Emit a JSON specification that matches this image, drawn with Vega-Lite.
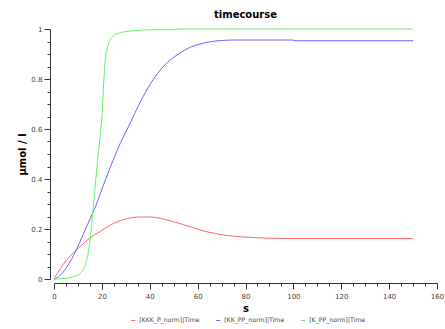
{
  "$schema": "https://vega.github.io/schema/vega-lite/v6.json",
  "autosize": {"type": "none"},
  "width": 383,
  "height": 250,
  "padding": {"left": 54, "top": 29, "right": 8, "bottom": 50},
  "background": "white",
  "title": {
    "text": "timecourse",
    "fontSize": 10,
    "fontWeight": "bold",
    "font": "DejaVu Sans",
    "color": "#000000",
    "offset": 5
  },
  "config": {
    "view": {"stroke": null},
    "font": "DejaVu Sans",
    "axis": {
      "grid": false,
      "domainColor": "#333333",
      "tickColor": "#333333",
      "labelFontSize": 7,
      "labelColor": "#444444",
      "titleFontSize": 10,
      "titleFontWeight": "bold",
      "titleColor": "#000000",
      "offset": 4
    }
  },
  "data": {
    "values": [
      {"t": 0, "s": "[KKK_P_norm]|Time", "v": 0},
      {"t": 2.7, "s": "[KKK_P_norm]|Time", "v": 0.043},
      {"t": 5.5, "s": "[KKK_P_norm]|Time", "v": 0.079},
      {"t": 9, "s": "[KKK_P_norm]|Time", "v": 0.113},
      {"t": 12.4, "s": "[KKK_P_norm]|Time", "v": 0.143},
      {"t": 15.2, "s": "[KKK_P_norm]|Time", "v": 0.166},
      {"t": 19.4, "s": "[KKK_P_norm]|Time", "v": 0.191},
      {"t": 23.6, "s": "[KKK_P_norm]|Time", "v": 0.216},
      {"t": 29.1, "s": "[KKK_P_norm]|Time", "v": 0.238},
      {"t": 33, "s": "[KKK_P_norm]|Time", "v": 0.246},
      {"t": 36.1, "s": "[KKK_P_norm]|Time", "v": 0.248},
      {"t": 40, "s": "[KKK_P_norm]|Time", "v": 0.248},
      {"t": 43.1, "s": "[KKK_P_norm]|Time", "v": 0.245},
      {"t": 46.5, "s": "[KKK_P_norm]|Time", "v": 0.238},
      {"t": 50, "s": "[KKK_P_norm]|Time", "v": 0.229},
      {"t": 53.5, "s": "[KKK_P_norm]|Time", "v": 0.219},
      {"t": 56.9, "s": "[KKK_P_norm]|Time", "v": 0.209},
      {"t": 60.4, "s": "[KKK_P_norm]|Time", "v": 0.198},
      {"t": 63.9, "s": "[KKK_P_norm]|Time", "v": 0.189},
      {"t": 67.3, "s": "[KKK_P_norm]|Time", "v": 0.182},
      {"t": 70.8, "s": "[KKK_P_norm]|Time", "v": 0.176},
      {"t": 74.3, "s": "[KKK_P_norm]|Time", "v": 0.172},
      {"t": 77.8, "s": "[KKK_P_norm]|Time", "v": 0.169},
      {"t": 84.8, "s": "[KKK_P_norm]|Time", "v": 0.165},
      {"t": 90.3, "s": "[KKK_P_norm]|Time", "v": 0.163},
      {"t": 100, "s": "[KKK_P_norm]|Time", "v": 0.162},
      {"t": 120, "s": "[KKK_P_norm]|Time", "v": 0.162},
      {"t": 150, "s": "[KKK_P_norm]|Time", "v": 0.162},
      {"t": 0, "s": "[KK_PP_norm]|Time", "v": 0},
      {"t": 1.3, "s": "[KK_PP_norm]|Time", "v": 0.005},
      {"t": 2.7, "s": "[KK_PP_norm]|Time", "v": 0.016},
      {"t": 5.5, "s": "[KK_PP_norm]|Time", "v": 0.05},
      {"t": 9, "s": "[KK_PP_norm]|Time", "v": 0.11},
      {"t": 12.4, "s": "[KK_PP_norm]|Time", "v": 0.183},
      {"t": 15.2, "s": "[KK_PP_norm]|Time", "v": 0.243},
      {"t": 18, "s": "[KK_PP_norm]|Time", "v": 0.305},
      {"t": 19.4, "s": "[KK_PP_norm]|Time", "v": 0.343},
      {"t": 23.6, "s": "[KK_PP_norm]|Time", "v": 0.449},
      {"t": 27.7, "s": "[KK_PP_norm]|Time", "v": 0.543},
      {"t": 31.9, "s": "[KK_PP_norm]|Time", "v": 0.625},
      {"t": 36.1, "s": "[KK_PP_norm]|Time", "v": 0.709},
      {"t": 40.3, "s": "[KK_PP_norm]|Time", "v": 0.781},
      {"t": 44.4, "s": "[KK_PP_norm]|Time", "v": 0.836},
      {"t": 48.6, "s": "[KK_PP_norm]|Time", "v": 0.876},
      {"t": 52.8, "s": "[KK_PP_norm]|Time", "v": 0.905},
      {"t": 56.9, "s": "[KK_PP_norm]|Time", "v": 0.927},
      {"t": 61.1, "s": "[KK_PP_norm]|Time", "v": 0.94},
      {"t": 65.3, "s": "[KK_PP_norm]|Time", "v": 0.949},
      {"t": 70, "s": "[KK_PP_norm]|Time", "v": 0.954},
      {"t": 76, "s": "[KK_PP_norm]|Time", "v": 0.956},
      {"t": 99.5, "s": "[KK_PP_norm]|Time", "v": 0.956},
      {"t": 101, "s": "[KK_PP_norm]|Time", "v": 0.953},
      {"t": 150, "s": "[KK_PP_norm]|Time", "v": 0.953},
      {"t": 0, "s": "[K_PP_norm]|Time", "v": 0},
      {"t": 4, "s": "[K_PP_norm]|Time", "v": 0.002},
      {"t": 6.9, "s": "[K_PP_norm]|Time", "v": 0.006},
      {"t": 9, "s": "[K_PP_norm]|Time", "v": 0.012},
      {"t": 11, "s": "[K_PP_norm]|Time", "v": 0.023},
      {"t": 12.2, "s": "[K_PP_norm]|Time", "v": 0.037},
      {"t": 13.1, "s": "[K_PP_norm]|Time", "v": 0.056},
      {"t": 14.5, "s": "[K_PP_norm]|Time", "v": 0.116},
      {"t": 15.5, "s": "[K_PP_norm]|Time", "v": 0.196},
      {"t": 16.3, "s": "[K_PP_norm]|Time", "v": 0.276},
      {"t": 17.3, "s": "[K_PP_norm]|Time", "v": 0.38},
      {"t": 18.4, "s": "[K_PP_norm]|Time", "v": 0.49},
      {"t": 19.4, "s": "[K_PP_norm]|Time", "v": 0.583},
      {"t": 20.1, "s": "[K_PP_norm]|Time", "v": 0.663},
      {"t": 20.8, "s": "[K_PP_norm]|Time", "v": 0.79},
      {"t": 21.5, "s": "[K_PP_norm]|Time", "v": 0.885},
      {"t": 22.9, "s": "[K_PP_norm]|Time", "v": 0.943},
      {"t": 24.9, "s": "[K_PP_norm]|Time", "v": 0.972},
      {"t": 27.7, "s": "[K_PP_norm]|Time", "v": 0.985},
      {"t": 33.3, "s": "[K_PP_norm]|Time", "v": 0.993},
      {"t": 40, "s": "[K_PP_norm]|Time", "v": 0.997},
      {"t": 50, "s": "[K_PP_norm]|Time", "v": 0.997},
      {"t": 51.5, "s": "[K_PP_norm]|Time", "v": 1.0},
      {"t": 150, "s": "[K_PP_norm]|Time", "v": 1.0}
    ]
  },
  "mark": {"type": "line", "strokeWidth": 1, "interpolate": "monotone"},
  "encoding": {
    "x": {
      "field": "t",
      "type": "quantitative",
      "title": "s",
      "scale": {"domain": [0, 160], "nice": false},
      "axis": {
        "values": [0, 5, 10, 15, 20, 25, 30, 35, 40, 45, 50, 55, 60, 65, 70, 75, 80, 85, 90, 95, 100, 105, 110, 115, 120, 125, 130, 135, 140, 145, 150, 155, 160],
        "labelExpr": "datum.value % 20 === 0 ? datum.label : ''",
        "tickSize": {"condition": {"test": "datum.value % 20 === 0", "value": 6}, "value": 3},
        "labelPadding": 3,
        "titleY": 20,
        "titleBaseline": "top",
        "labelFlush": false,
        "labelOverlap": false
      }
    },
    "y": {
      "field": "v",
      "type": "quantitative",
      "title": "µmol / l",
      "scale": {"domain": [0, 1], "nice": false},
      "axis": {
        "values": [0, 0.05, 0.1, 0.15, 0.2, 0.25, 0.3, 0.35, 0.4, 0.45, 0.5, 0.55, 0.6, 0.65, 0.7, 0.75, 0.8, 0.85, 0.9, 0.95, 1],
        "format": ".1~f",
        "labelExpr": "round(datum.value * 100) % 20 === 0 ? datum.label : ''",
        "tickSize": {"condition": {"test": "round(datum.value * 100) % 20 === 0", "value": 6}, "value": 3},
        "labelPadding": 2,
        "titleX": -23,
        "titleBaseline": "bottom",
        "labelFlush": false,
        "labelOverlap": false
      }
    },
    "color": {
      "field": "s",
      "type": "nominal",
      "sort": ["[KKK_P_norm]|Time", "[KK_PP_norm]|Time", "[K_PP_norm]|Time"],
      "scale": {
        "domain": ["[KKK_P_norm]|Time", "[KK_PP_norm]|Time", "[K_PP_norm]|Time"],
        "range": ["#ff6666", "#6666ff", "#66ee66"]
      },
      "legend": {
        "title": null,
        "orient": "none",
        "direction": "horizontal",
        "legendX": 76,
        "legendY": 288,
        "symbolType": "stroke",
        "symbolSize": 20,
        "symbolStrokeWidth": 1,
        "labelFontSize": 6.2,
        "labelColor": "#444444",
        "labelOffset": 3,
        "columnPadding": 13
      }
    }
  }
}
